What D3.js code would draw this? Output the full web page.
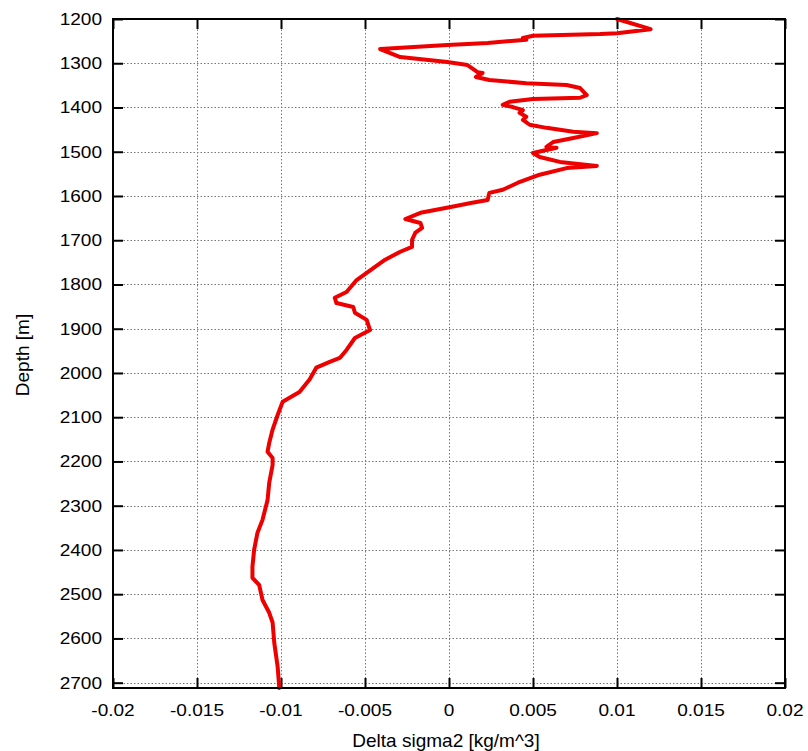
<!DOCTYPE html>
<html>
<head>
<meta charset="utf-8">
<script src="https://cdn.jsdelivr.net/npm/d3@7"></script>
<style>
  html, body { margin: 0; padding: 0; background: #fff; }
  text { font-family: "Liberation Sans", Arial, Helvetica, sans-serif; fill: #000; }
</style>
</head>
<body>
<svg id="chart" width="808" height="751"></svg>
<script>
// Density anomaly profile: delta sigma2 (kg/m^3) against depth (m)
const deltaSigma = [
  0.0100, 0.0120, 0.0100, 0.0090, 0.0050, 0.0044, 0.0046, 0.0023, -0.0001, -0.0041,
  -0.0029, -0.0001, 0.0011, 0.0017, 0.0020, 0.0016, 0.0024, 0.0046, 0.0070, 0.0078,
  0.0082, 0.0078, 0.0050, 0.0036, 0.0032, 0.0038, 0.0044, 0.0042, 0.0046, 0.0044,
  0.0048, 0.0058, 0.0074, 0.0088, 0.0074, 0.0062, 0.0058, 0.0064, 0.0050, 0.0054,
  0.0066, 0.0088, 0.0070, 0.0054, 0.0041, 0.0032, 0.0024, 0.0023, 0.0013, 0.0001,
  -0.0017, -0.0026, -0.0017, -0.0016, -0.0020, -0.0022, -0.0022, -0.0029, -0.0038, -0.0049,
  -0.0055, -0.0061, -0.0068, -0.0067, -0.0057, -0.0056, -0.0049, -0.0047, -0.0056, -0.0061,
  -0.0065, -0.0071, -0.0079, -0.0083, -0.0089, -0.0099, -0.0102, -0.0105, -0.0107, -0.0108,
  -0.0105, -0.0105, -0.0107, -0.0108, -0.0111, -0.0114, -0.0116, -0.0117, -0.0117, -0.0113,
  -0.0111, -0.0107, -0.0105, -0.0104, -0.0102, -0.0101
];
const depth = [
  1200, 1223, 1232, 1234, 1238, 1243, 1247, 1254, 1259, 1268,
  1286, 1297, 1304, 1320, 1322, 1331, 1338, 1345, 1349, 1356,
  1372, 1378, 1381, 1387, 1394, 1399, 1406, 1412, 1421, 1428,
  1439, 1446, 1455, 1458, 1469, 1478, 1489, 1491, 1503, 1512,
  1523, 1532, 1537, 1552, 1570, 1586, 1593, 1609, 1616, 1625,
  1638, 1652, 1661, 1672, 1683, 1699, 1715, 1726, 1744, 1774,
  1790, 1817, 1830, 1842, 1851, 1864, 1880, 1903, 1921, 1948,
  1966, 1975, 1988, 2015, 2043, 2065, 2095, 2128, 2158, 2178,
  2192, 2208, 2248, 2287, 2332, 2361, 2400, 2438, 2463, 2479,
  2513, 2542, 2564, 2610, 2664, 2712
];
const xTicks = [-0.02, -0.015, -0.01, -0.005, 0, 0.005, 0.01, 0.015, 0.02];
const xTickLabels = ["-0.02", "-0.015", "-0.01", "-0.005", "0", "0.005", "0.01", "0.015", "0.02"];
const yTicks = [1200, 1300, 1400, 1500, 1600, 1700, 1800, 1900, 2000, 2100, 2200, 2300, 2400, 2500, 2600, 2700];
const xTitle = "Delta sigma2 [kg/m^3]";
const yTitle = "Depth [m]";

const svg = d3.select("#chart");
const plotL = 113, plotR = 785, plotT = 19, plotB = 688;

const x = d3.scaleLinear().domain([-0.02, 0.02]).range([plotL, plotR]);
const y = d3.scaleLinear().domain([1200, 2712]).range([plotT, plotB]);

svg.append("rect").attr("width", 808).attr("height", 751).attr("fill", "#fff");

// dotted grid
const grid = svg.append("g")
  .attr("stroke", "#777").attr("stroke-width", 1).attr("stroke-dasharray", "1.5,2");
grid.selectAll("line.v").data(xTicks.slice(1, -1)).join("line")
  .attr("class", "v")
  .attr("x1", d => Math.round(x(d)) + 0.5).attr("x2", d => Math.round(x(d)) + 0.5)
  .attr("y1", plotT).attr("y2", plotB);
grid.selectAll("line.h").data(yTicks.slice(1)).join("line")
  .attr("class", "h")
  .attr("y1", d => Math.round(y(d)) + 0.5).attr("y2", d => Math.round(y(d)) + 0.5)
  .attr("x1", plotL).attr("x2", plotR);

// inward ticks mirrored on all four sides
const tickLen = 10;
const tickFont = 16, stretch = 1.19;
const bottomAxis = d3.axisBottom(x).tickValues(xTicks).tickSize(-tickLen).tickFormat("");
const topAxis = d3.axisTop(x).tickValues(xTicks).tickSize(-tickLen).tickFormat("");
const leftAxis = d3.axisLeft(y).tickValues(yTicks).tickSize(-tickLen).tickFormat("");
const rightAxis = d3.axisRight(y).tickValues(yTicks).tickSize(-tickLen).tickFormat("");
[[bottomAxis, `translate(0,${plotB})`], [topAxis, `translate(0,${plotT})`],
 [leftAxis, `translate(${plotL},0)`], [rightAxis, `translate(${plotR},0)`]].forEach(([ax, tr]) => {
  const g = svg.append("g").attr("transform", tr).call(ax);
  g.select(".domain").remove();
  g.selectAll(".tick line").attr("stroke", "#000").attr("stroke-width", 2);
});

// tick labels
svg.append("g").selectAll("text").data(xTicks).join("text")
  .attr("transform", d => `translate(${x(d)},716) scale(${stretch},1)`)
  .attr("text-anchor", "middle").attr("font-size", tickFont)
  .text((d, i) => xTickLabels[i]);
svg.append("g").selectAll("text").data(yTicks).join("text")
  .attr("transform", d => `translate(102,${y(d) + 6}) scale(${stretch},1)`)
  .attr("text-anchor", "end").attr("font-size", tickFont)
  .text(d => d);

// profile line
const line = d3.line().x(d => x(d[0])).y(d => y(d[1]));
svg.append("path")
  .datum(deltaSigma.map((v, i) => [v, depth[i]]))
  .attr("d", line)
  .attr("fill", "none").attr("stroke", "#ee0000")
  .attr("stroke-width", 4).attr("stroke-linejoin", "round").attr("stroke-linecap", "round");

// frame
svg.append("rect")
  .attr("x", plotL).attr("y", plotT).attr("width", plotR - plotL).attr("height", plotB - plotT)
  .attr("fill", "none").attr("stroke", "#000").attr("stroke-width", 2);

// axis titles
svg.append("text").attr("x", 446).attr("y", 747)
  .attr("text-anchor", "middle").attr("font-size", 19).text(xTitle);
svg.append("text").attr("transform", "translate(29,355) rotate(-90)")
  .attr("text-anchor", "middle").attr("font-size", 19).text(yTitle);
</script>
</body>
</html>
